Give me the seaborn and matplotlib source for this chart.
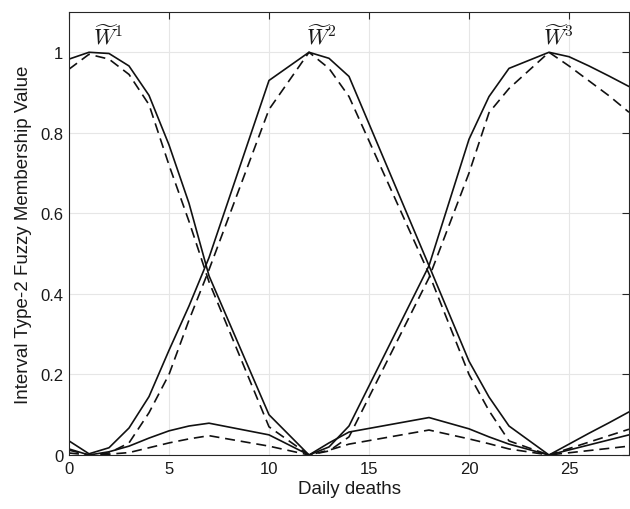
import matplotlib
matplotlib.use("Agg")
import matplotlib.pyplot as plt
import seaborn as sns
import pandas as pd
import numpy as np

# ---- data ----
x_vals = [0, 1, 2, 3, 4, 5, 6, 7, 10, 12, 13, 14, 18, 20, 21, 22, 24, 25, 26, 27, 28]

w1_upper = [0.983, 1.0, 0.997, 0.966, 0.893, 0.77, 0.625, 0.445, 0.10, 0.0, 0.03, 0.057,
            0.093, 0.065, 0.045, 0.027, 0.0, 0.027, 0.054, 0.08, 0.107]
w1_lower = [0.958, 0.995, 0.983, 0.945, 0.87, 0.72, 0.58, 0.43, 0.07, 0.0, 0.012, 0.027,
            0.062, 0.04, 0.028, 0.015, 0.0, 0.016, 0.032, 0.048, 0.064]
w2_upper = [0.035, 0.003, 0.018, 0.067, 0.145, 0.26, 0.37, 0.49, 0.93, 1.0, 0.985, 0.94,
            0.47, 0.233, 0.144, 0.072, 0.0, 0.0125, 0.025, 0.0375, 0.05]
w2_lower = [0.012, 0.0, 0.005, 0.03, 0.105, 0.2, 0.335, 0.46, 0.858, 1.0, 0.96, 0.89,
            0.45, 0.2, 0.11, 0.035, 0.0, 0.0055, 0.011, 0.0165, 0.022]
w3_upper = [0.015, 0.0, 0.008, 0.022, 0.042, 0.06, 0.072, 0.079, 0.05, 0.0, 0.02, 0.072,
            0.47, 0.784, 0.89, 0.96, 1.0, 0.989, 0.966, 0.941, 0.915]
w3_lower = [0.005, 0.0, 0.002, 0.006, 0.018, 0.03, 0.04, 0.048, 0.022, 0.0, 0.01, 0.045,
            0.44, 0.70, 0.85, 0.91, 1.0, 0.966, 0.929, 0.892, 0.851]

mf_names = ["W1", "W2", "W3"]
mf_labels = [r"$\widetilde{W}^1$", r"$\widetilde{W}^2$", r"$\widetilde{W}^3$"]
label_x = [1.2, 11.85, 23.7]

x_ticks = [0, 5, 10, 15, 20, 25]
y_ticks = [0, 0.2, 0.4, 0.6, 0.8, 1.0]
y_tick_labels = ["0", "0.2", "0.4", "0.6", "0.8", "1"]

rows = []
for name, up, lo in zip(mf_names, [w1_upper, w2_upper, w3_upper], [w1_lower, w2_lower, w3_lower]):
    for xv, u, l in zip(x_vals, up, lo):
        rows.append({"x": xv, "y": u, "mf": name, "bound": "upper"})
        rows.append({"x": xv, "y": l, "mf": name, "bound": "lower"})
df = pd.DataFrame(rows)

sns.set_style("white")
plt.rcParams["font.family"] = ["Liberation Sans", "DejaVu Sans"]
plt.rcParams["mathtext.fontset"] = "cm"

fig = plt.figure(figsize=(6.3, 5.1), dpi=100)
ax = fig.add_axes([69 / 630, 1 - 456 / 510, 560 / 630, 443 / 510])

sns.lineplot(data=df, x="x", y="y", units="mf", style="bound", estimator=None,
             color="#111111", linewidth=1.2, dashes={"upper": "", "lower": (6, 3.5)},
             style_order=["upper", "lower"], legend=False, ax=ax, sort=False)

ax.set_xlim(0, 28)
ax.set_ylim(0, 1.1)
ax.set_xticks(x_ticks)
ax.set_yticks(y_ticks)
ax.set_yticklabels(y_tick_labels)
ax.grid(True, color="#e6e6e6", linewidth=0.8)
ax.set_axisbelow(True)
ax.tick_params(direction="in", length=5, width=0.8, top=True, right=True,
               labelsize=12, colors="#262626", labelcolor="#1a1a1a", pad=4)
for s in ax.spines.values():
    s.set_color("#262626")
    s.set_linewidth(0.8)
    s.set_visible(True)

ax.set_xlabel("Daily deaths", fontsize=13.5, color="#1a1a1a", labelpad=3)
ax.set_ylabel("Interval Type-2 Fuzzy Membership Value", fontsize=13.5, color="#1a1a1a", labelpad=6)

for lab, px in zip(mf_labels, label_x):
    ax.text(px, 1.022, lab, ha="left", va="baseline", fontsize=16, color="#1a1a1a")

fig.savefig("out.png", dpi=100)
